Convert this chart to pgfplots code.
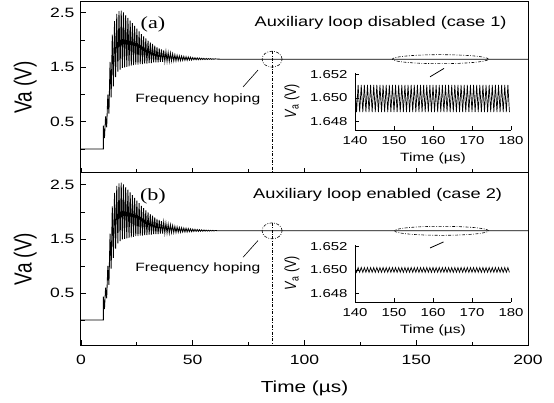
\documentclass[border=0pt]{standalone}
\usepackage{fontspec}
\setmainfont{Liberation Sans}[FakeStretch=1.3]
\newfontfamily\plainsans{Liberation Sans}
\newfontfamily\serifst{Liberation Serif}[FakeStretch=1.3]
\usepackage{pgfplots}
\pgfplotsset{compat=1.18}
\usepackage{pgfplotstable}

\pgfplotstableread{
t v
0 0
10 0
10.0 0.43
10.5 0.20
11.0 0.60
11.5 0.40
12.0 1.00
12.5 0.65
13.0 1.60
13.5 0.95
14.0 2.10
14.5 1.15
15.0 2.35
15.5 1.32
16.0 2.48
16.5 1.42
17.0 2.53
17.5 1.46
18.0 2.54
18.5 1.49
19.0 2.51
19.5 1.50
20.0 2.46
20.5 1.51
21.0 2.41
21.5 1.52
22.0 2.36
22.5 1.53
23.0 2.31
23.5 1.54
24.0 2.26
24.5 1.55
25.0 2.21
25.5 1.55
26.0 2.16
26.5 1.56
27.0 2.11
27.5 1.56
28.0 2.07
28.5 1.57
29.0 2.03
29.5 1.57
30.0 1.99
30.5 1.58
31.0 1.96
31.5 1.58
32.0 1.93
32.5 1.59
33.0 1.90
33.5 1.59
34.0 1.87
34.5 1.59
35.0 1.85
35.5 1.60
36.0 1.83
36.5 1.60
37.0 1.81
37.5 1.61
38.0 1.79
38.5 1.61
39.0 1.77
39.5 1.61
40.0 1.76
40.5 1.62
41.0 1.745
41.5 1.62
42.0 1.73
42.5 1.62
43.0 1.72
43.5 1.625
44.0 1.71
44.5 1.625
45.0 1.705
45.5 1.63
46.0 1.70
46.5 1.63
47.0 1.695
47.5 1.63
48.0 1.69
48.5 1.635
49.0 1.685
49.5 1.635
50.0 1.68
50.5 1.64
51.0 1.677
51.5 1.64
52.0 1.674
52.5 1.64
53.0 1.671
53.5 1.642
54.0 1.668
54.5 1.643
55.0 1.665
55.5 1.644
56.0 1.663
56.5 1.645
57.0 1.661
57.5 1.646
58.0 1.66
58.5 1.647
59.0 1.658
59.5 1.648
60.0 1.656
61.0 1.652
62.0 1.65
200 1.65
}\transient

\tikzset{dd/.style={black, line width=0.6pt, dash pattern=on 3pt off 1.5pt on 0.8pt off 1.5pt}}

\pgfplotsset{
  mainax/.style={
    scale only axis, width=447pt,
    xmin=0, xmax=200,
    xtick={0,50,100,150,200}, minor xtick={25,75,125,175},
    ytick={0.5,1.5,2.5}, minor ytick={0,1,2},
    tick align=inside, xtick pos=left, ytick pos=left,
    major tick length=5pt, minor tick length=3.5pt,
    axis line style={line width=1pt},
    every tick/.style={black, line width=0.8pt},
    tick label style={font=\fontsize{13.5}{16}\selectfont},
    /pgf/number format/assume math mode=true,
    yticklabel style={xshift=-3pt, /pgf/number format/fixed, /pgf/number format/fixed zerofill, /pgf/number format/precision=1},
    xticklabel style={yshift=-7pt},
    ylabel={\scalebox{1}[1.3]{\plainsans\fontsize{19}{22}\selectfont Va (V)}},
    ylabel style={at={(axis description cs:-0.125,0.5)}, anchor=center},
  },
  insetax/.style={
    scale only axis, width=156pt, height=57pt,
    xmin=140, xmax=180, ymin=1.6473, ymax=1.6521,
    axis x line=bottom, axis y line=left,
    axis line style={-, line width=0.9pt},
    xtick={140,150,...,180}, ytick={1.648,1.650,1.652},
    tick align=inside, major tick length=4pt,
    every tick/.style={black, line width=0.7pt},
    tick label style={font=\fontsize{11.5}{13}\selectfont},
    /pgf/number format/assume math mode=true,
    yticklabel style={xshift=-4pt, /pgf/number format/fixed, /pgf/number format/fixed zerofill, /pgf/number format/precision=3},
    xticklabel style={yshift=-2.5pt},
    xlabel={\fontsize{12}{14}\selectfont Time (µs)},
    xlabel style={at={(axis description cs:0.5,-0.49)}, anchor=center},
    ylabel={\scalebox{1}[1.3]{\plainsans\fontsize{12.5}{14}\selectfont\textit{V}\textsubscript{a} (V)}},
    ylabel style={at={(axis description cs:-0.404,0.5)}, anchor=center},
  },
}

\begin{document}
\begin{tikzpicture}
\path[use as bounding box] (0,0) rectangle (554pt,-403pt);

% Panel (a)
\begin{axis}[mainax, at={(81pt,-173pt)}, anchor=south west, height=171pt,
  ymin=-0.44, ymax=2.70, xticklabels={}]
\addplot[black, line width=0.85pt] table[x=t, y=v] {\transient};
\node[font=\serifst\fontsize{17}{20}\selectfont] at (axis cs:32.2,2.28) {(a)};
\node[anchor=east, font=\fontsize{14}{17}\selectfont] at (axis cs:192,2.31) {Auxiliary loop disabled (case 1)};
\node[font=\fontsize{12}{14}\selectfont] at (axis cs:52.3,0.92) {Frequency hoping};
\draw[black, line width=0.6pt] (axis cs:72.5,1.14) -- (axis cs:79.2,1.45);
\draw[dd] (axis cs:85.5,1.65) ellipse [x radius=10pt, y radius=8pt];
\draw[dd] (axis cs:85.5,1.80) -- (axis cs:85.5,-0.44);
\draw[dd] (axis cs:160.8,1.65) ellipse [x radius=48pt, y radius=4.5pt];
\draw[black, line width=0.8pt] (axis cs:156.2,1.327) -- (axis cs:162.4,1.48);
\end{axis}

% Panel (b)
\begin{axis}[mainax, at={(81pt,-345pt)}, anchor=south west, height=172pt,
  ymin=-0.463, ymax=2.72,
  xlabel={\fontsize{16}{19}\selectfont Time (µs)},
  xlabel style={at={(axis description cs:0.5,-0.255)}, anchor=center}]
\addplot[black, line width=0.85pt] table[x=t, y=v] {\transient};
\node[font=\serifst\fontsize{17}{20}\selectfont] at (axis cs:32.2,2.28) {(b)};
\node[anchor=east, font=\fontsize{14}{17}\selectfont] at (axis cs:190,2.31) {Auxiliary loop enabled (case 2)};
\node[font=\fontsize{12}{14}\selectfont] at (axis cs:52.3,0.96) {Frequency hoping};
\draw[black, line width=0.6pt] (axis cs:72.5,1.16) -- (axis cs:79.2,1.47);
\draw[dd] (axis cs:85.5,1.65) ellipse [x radius=10pt, y radius=8pt];
\draw[dd] (axis cs:85.5,1.80) -- (axis cs:85.5,-0.463);
\draw[dd] (axis cs:161.3,1.65) ellipse [x radius=47pt, y radius=4.5pt];
\draw[black, line width=0.8pt] (axis cs:156.2,1.333) -- (axis cs:162.2,1.444);
\end{axis}

% Inset (a)
\begin{axis}[insetax, at={(355pt,-130pt)}, anchor=south west]
\addplot[black, line width=0.7pt] coordinates {
(140,1.6511)(140.4,1.6488)(140.8,1.6511)(141.2,1.6488)(141.6,1.6511)(142,1.6488)(142.4,1.6511)(142.8,1.6488)(143.2,1.6511)(143.6,1.6488)
(144,1.6511)(144.4,1.6488)(144.8,1.6511)(145.2,1.6488)(145.6,1.6511)(146,1.6488)(146.4,1.6511)(146.8,1.6488)(147.2,1.6511)(147.6,1.6488)
(148,1.6511)(148.4,1.6488)(148.8,1.6511)(149.2,1.6488)(149.6,1.6511)(150,1.6488)(150.4,1.6511)(150.8,1.6488)(151.2,1.6511)(151.6,1.6488)
(152,1.6511)(152.4,1.6488)(152.8,1.6511)(153.2,1.6488)(153.6,1.6511)(154,1.6488)(154.4,1.6511)(154.8,1.6488)(155.2,1.6511)(155.6,1.6488)
(156,1.6511)(156.4,1.6488)(156.8,1.6511)(157.2,1.6488)(157.6,1.6511)(158,1.6488)(158.4,1.6511)(158.8,1.6488)(159.2,1.6511)(159.6,1.6488)
(160,1.6511)(160.4,1.6488)(160.8,1.6511)(161.2,1.6488)(161.6,1.6511)(162,1.6488)(162.4,1.6511)(162.8,1.6488)(163.2,1.6511)(163.6,1.6488)
(164,1.6511)(164.4,1.6488)(164.8,1.6511)(165.2,1.6488)(165.6,1.6511)(166,1.6488)(166.4,1.6511)(166.8,1.6488)(167.2,1.6511)(167.6,1.6488)
(168,1.6511)(168.4,1.6488)(168.8,1.6511)(169.2,1.6488)(169.6,1.6511)(170,1.6488)(170.4,1.6511)(170.8,1.6488)(171.2,1.6511)(171.6,1.6488)
(172,1.6511)(172.4,1.6488)(172.8,1.6511)(173.2,1.6488)(173.6,1.6511)(174,1.6488)(174.4,1.6511)(174.8,1.6488)(175.2,1.6511)(175.6,1.6488)
(176,1.6511)(176.4,1.6488)(176.8,1.6511)(177.2,1.6488)(177.6,1.6511)(178,1.6488)(178.4,1.6511)(178.8,1.6488)(179.2,1.6511)(179.6,1.6488)
};
\end{axis}

% Inset (b)
\begin{axis}[insetax, at={(355pt,-302pt)}, anchor=south west]
\addplot[black, line width=0.7pt] coordinates {
(140,1.6502)(140.4,1.6498)(140.8,1.6502)(141.2,1.6498)(141.6,1.6502)(142,1.6498)(142.4,1.6502)(142.8,1.6498)(143.2,1.6502)(143.6,1.6498)
(144,1.6502)(144.4,1.6498)(144.8,1.6502)(145.2,1.6498)(145.6,1.6502)(146,1.6498)(146.4,1.6502)(146.8,1.6498)(147.2,1.6502)(147.6,1.6498)
(148,1.6502)(148.4,1.6498)(148.8,1.6502)(149.2,1.6498)(149.6,1.6502)(150,1.6498)(150.4,1.6502)(150.8,1.6498)(151.2,1.6502)(151.6,1.6498)
(152,1.6502)(152.4,1.6498)(152.8,1.6502)(153.2,1.6498)(153.6,1.6502)(154,1.6498)(154.4,1.6502)(154.8,1.6498)(155.2,1.6502)(155.6,1.6498)
(156,1.6502)(156.4,1.6498)(156.8,1.6502)(157.2,1.6498)(157.6,1.6502)(158,1.6498)(158.4,1.6502)(158.8,1.6498)(159.2,1.6502)(159.6,1.6498)
(160,1.6502)(160.4,1.6498)(160.8,1.6502)(161.2,1.6498)(161.6,1.6502)(162,1.6498)(162.4,1.6502)(162.8,1.6498)(163.2,1.6502)(163.6,1.6498)
(164,1.6502)(164.4,1.6498)(164.8,1.6502)(165.2,1.6498)(165.6,1.6502)(166,1.6498)(166.4,1.6502)(166.8,1.6498)(167.2,1.6502)(167.6,1.6498)
(168,1.6502)(168.4,1.6498)(168.8,1.6502)(169.2,1.6498)(169.6,1.6502)(170,1.6498)(170.4,1.6502)(170.8,1.6498)(171.2,1.6502)(171.6,1.6498)
(172,1.6502)(172.4,1.6498)(172.8,1.6502)(173.2,1.6498)(173.6,1.6502)(174,1.6498)(174.4,1.6502)(174.8,1.6498)(175.2,1.6502)(175.6,1.6498)
(176,1.6502)(176.4,1.6498)(176.8,1.6502)(177.2,1.6498)(177.6,1.6502)(178,1.6498)(178.4,1.6502)(178.8,1.6498)(179.2,1.6502)(179.6,1.6498)
};
\end{axis}
\end{tikzpicture}
\end{document}
